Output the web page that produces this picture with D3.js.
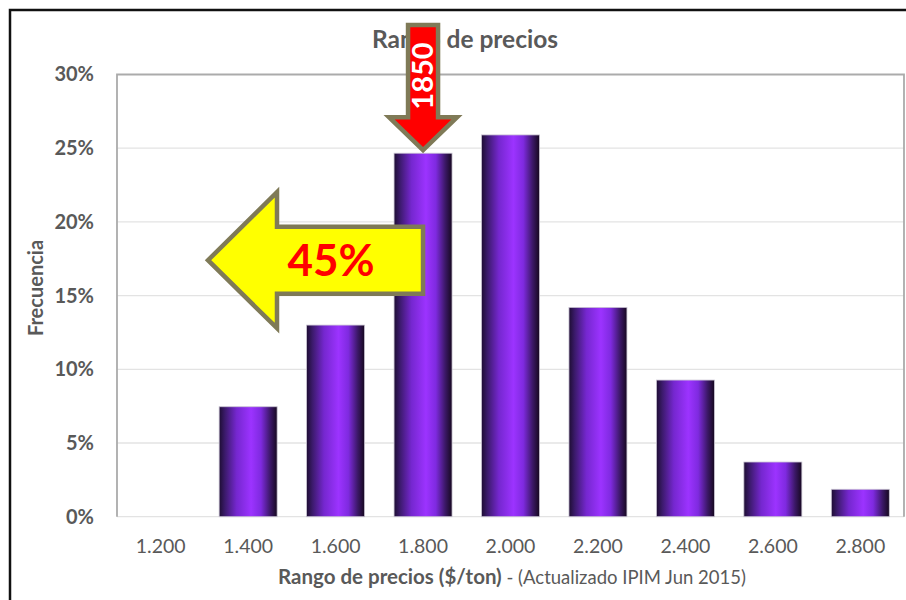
<!DOCTYPE html>
<html><head><meta charset="utf-8">
<script src="https://cdn.jsdelivr.net/npm/d3@7"></script>
<style>body{margin:0;background:#fff}svg{display:block}</style>
</head><body><svg id="c" width="906" height="600"></svg>
<script>
const categories = ["1.200","1.400","1.600","1.800","2.000","2.200","2.400","2.600","2.800"];
const frequency = [0, 0.0746, 0.130, 0.2466, 0.259, 0.142, 0.0927, 0.0371, 0.0186];
const yTicks = [0, 0.05, 0.10, 0.15, 0.20, 0.25, 0.30];
const markerCategory = "1.800";
const markerLabel = "1850";
const shareLabel = "45%";
const shareLevel = 0.174;

const svg = d3.select("#c");
const font = "Lato, 'Open Sans', sans-serif";
const m = {l:117, r:904, t:74.5, b:516.7};
const x = d3.scaleBand().domain(categories).range([m.l, m.r]).paddingInner(0.337).paddingOuter(0.168);
const y = d3.scaleLinear().domain([0, 0.30]).range([m.b, m.t]);

const defs = svg.append("defs");
const g = defs.append("linearGradient").attr("id","barg").attr("x1","0").attr("x2","1").attr("y1","0").attr("y2","0");
[[0,"#1e0d33"],[0.1,"#3b1a6b"],[0.3,"#7527cf"],[0.55,"#9c33ff"],[0.72,"#7f2ae0"],[0.88,"#3c1868"],[1,"#16081f"]]
  .forEach(([o,c])=>g.append("stop").attr("offset",o).attr("stop-color",c));

// outer frame
svg.append("rect").attr("x",10).attr("y",10).attr("width",920).attr("height",620)
  .attr("fill","none").attr("stroke","#111").attr("stroke-width",2.5);

// gridlines
svg.append("g").selectAll("line").data(yTicks.slice(1,-1)).join("line")
  .attr("x1",m.l).attr("x2",m.r).attr("y1",d=>y(d)).attr("y2",d=>y(d))
  .attr("stroke","#e3e3e3").attr("stroke-width",1.3);
// plot frame
svg.append("line").attr("x1",m.l).attr("x2",m.r).attr("y1",m.b).attr("y2",m.b).attr("stroke","#e3e3e3").attr("stroke-width",1.3);
svg.append("path").attr("d",`M${m.l},${m.b}V${m.t}H${m.r}V${m.b}`).attr("fill","none").attr("stroke","#ababab").attr("stroke-width",1.8);

// bars
svg.append("g").selectAll("rect").data(categories.map((c,i)=>({c,v:frequency[i]})).filter(d=>d.v>0)).join("rect")
  .attr("x",d=>x(d.c)).attr("width",x.bandwidth())
  .attr("y",d=>y(d.v)).attr("height",d=>y(0)-y(d.v))
  .attr("fill","url(#barg)").attr("stroke","#c9c3d3").attr("stroke-width",0.8);

// y axis labels
const ya = svg.append("g").attr("transform",`translate(${m.l-20},0)`)
  .call(d3.axisLeft(y).tickValues(yTicks).tickFormat(d3.format(".0%")).tickSize(0));
ya.select(".domain").remove();
ya.selectAll("text").attr("font-family",font).attr("font-size",20).attr("font-weight","bold").attr("fill","#595959");

// x axis labels
const xa = svg.append("g").attr("transform",`translate(0,${m.b+19})`)
  .call(d3.axisBottom(x).tickSize(0));
xa.select(".domain").remove();
xa.selectAll("text").attr("font-family",font).attr("font-size",19.5).attr("fill","#595959").attr("dy","0.71em");

// titles
svg.append("text").attr("x",465).attr("y",48).attr("text-anchor","middle")
  .attr("font-family",font).attr("font-size",24.5).attr("font-weight","bold").attr("fill","#595959").text("Rango de precios");
svg.append("text").attr("transform","translate(43,288) rotate(-90)").attr("text-anchor","middle")
  .attr("font-family",font).attr("font-size",20).attr("font-weight","bold").attr("fill","#595959").text("Frecuencia");
const xt = svg.append("text").attr("x",512).attr("y",584).attr("text-anchor","middle").attr("font-family",font).attr("fill","#595959");
xt.append("tspan").attr("font-size",20.5).attr("font-weight","bold").text("Rango de precios ($/ton)");
xt.append("tspan").attr("font-size",18.5).text(" - (Actualizado IPIM Jun 2015)");

// red down arrow annotation
const cx = x(markerCategory) + x.bandwidth()/2;
const tipY = y(frequency[categories.indexOf(markerCategory)]) - 3;
const sw = 15, hw = 34, hh = 33, topY = 25;
svg.append("path")
  .attr("d",`M${cx-sw},${topY}H${cx+sw}V${tipY-hh}H${cx+hw}L${cx},${tipY}L${cx-hw},${tipY-hh}H${cx-sw}Z`)
  .attr("fill","#ff0000").attr("stroke","#7f7a57").attr("stroke-width",4.5).attr("stroke-linejoin","miter");
svg.append("text").attr("transform",`translate(${cx+10},${76}) rotate(-90)`).attr("text-anchor","middle")
  .attr("font-family",font).attr("font-size",29).attr("font-weight","bold").attr("fill","#fff").text(markerLabel);

// yellow left arrow annotation
const ly = y(shareLevel);
const rx = cx, tipX = 208, neck = 277, shh = 33.5, hh2 = 68;
svg.append("path")
  .attr("d",`M${rx},${ly-shh}V${ly+shh}H${neck}V${ly+hh2}L${tipX},${ly}L${neck},${ly-hh2}V${ly-shh}Z`)
  .attr("fill","#ffff00").attr("stroke","#7f7a57").attr("stroke-width",4.5).attr("stroke-linejoin","miter");
svg.append("text").attr("x",331).attr("y",ly+16).attr("text-anchor","middle")
  .attr("font-family",font).attr("font-size",44).attr("font-weight","bold").attr("fill","#ff0000").text(shareLabel);
</script></body></html>
